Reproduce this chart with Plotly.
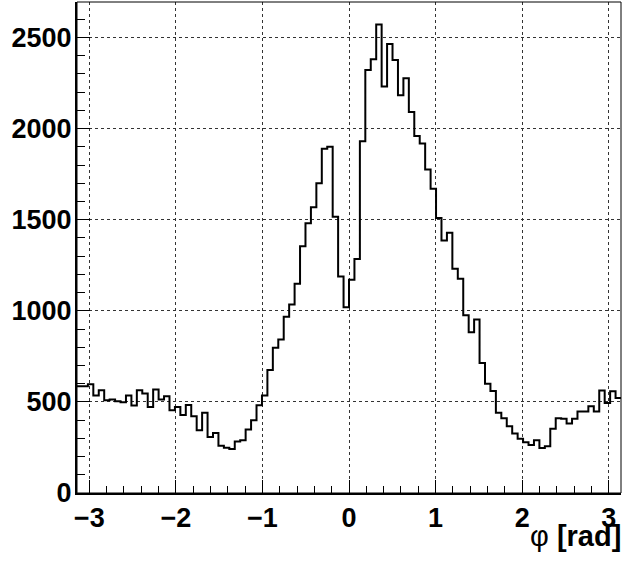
import numpy as np
import plotly.graph_objects as go

# Histogram of phi [rad], 100 bins from -pi to pi
n_bins = 100
x_min, x_max = -np.pi, np.pi
counts = [
    586, 586, 597, 535, 564, 509, 513, 503, 498, 535,
    480, 564, 546, 472, 568, 513, 531, 454, 472, 428,
    483, 421, 344, 440, 308, 330, 260, 249, 242, 282,
    289, 348, 399, 482, 535, 675, 797, 842, 967, 1035,
    1148, 1355, 1480, 1568, 1700, 1890, 1901, 1516, 1188, 1020,
    1170, 1285, 1930, 2322, 2381, 2571, 2231, 2465, 2377, 2183,
    2276, 2091, 1959, 1919, 1776, 1670, 1509, 1386, 1428, 1231,
    1176, 976, 883, 952, 714, 600, 560, 440, 410, 366,
    326, 298, 278, 264, 289, 247, 256, 352, 410, 407,
    381, 407, 448, 448, 476, 448, 562, 494, 558, 522,
]
x_ticks = [-3, -2, -1, 0, 1, 2, 3]
y_ticks = [0, 500, 1000, 1500, 2000, 2500]
x_title_symbol = "φ"
x_title_unit = "[rad]"

edges = np.linspace(x_min, x_max, n_bins + 1)
y_step = counts + [counts[-1]]

FONT = "Liberation Sans, Arial, Helvetica, sans-serif"

fig = go.Figure()
fig.add_trace(go.Scatter(
    x=edges, y=y_step, mode="lines", line=dict(shape="hv", color="black", width=2),
    hoverinfo="skip", showlegend=False, cliponaxis=True,
))

fig.update_layout(
    width=625, height=562,
    margin=dict(l=77, r=4, t=2, b=69, autoexpand=False),
    paper_bgcolor="white", plot_bgcolor="white",
    font=dict(family=FONT, color="black"),
    showlegend=False,
)
fig.update_xaxes(
    range=[x_min, x_max], automargin=False,
    tickvals=x_ticks, ticks="inside", ticklen=13, tickwidth=1, tickcolor="black",
    minor=dict(dtick=0.2, tick0=0, ticks="inside", ticklen=7, tickcolor="black", showgrid=False),
    showline=True, linecolor="black", linewidth=2,
    showgrid=True, gridcolor="#333", griddash="dot", gridwidth=1,
    zeroline=False,
    tickfont=dict(family=FONT, size=27, color="black", weight="bold"),
    ticklabelstandoff=0,
)
fig.update_yaxes(
    range=[0, 2695], automargin=False,
    tickvals=y_ticks, ticks="inside", ticklen=13, tickwidth=1, tickcolor="black",
    minor=dict(dtick=100, tick0=0, ticks="inside", ticklen=8, tickcolor="black", showgrid=False),
    showline=True, linecolor="black", linewidth=2,
    showgrid=True, gridcolor="#333", griddash="dot", gridwidth=1,
    zeroline=False,
    tickfont=dict(family=FONT, size=27, color="black", weight="bold"),
    ticklabelstandoff=-2,
)
fig.add_shape(type="rect", xref="paper", yref="paper", x0=0, x1=1, y0=0, y1=1,
              line=dict(color="black", width=1), layer="above")
fig.add_annotation(
    text=x_title_symbol + " <b>" + x_title_unit + "</b>", xref="paper", yref="paper",
    x=1.003, y=-0.088, xanchor="right", yanchor="middle", showarrow=False,
    font=dict(family=FONT, size=29, color="black"),
)

fig.write_html("out.html", post_script="document.body.style.margin='0';",
               config={"displayModeBar": False})
